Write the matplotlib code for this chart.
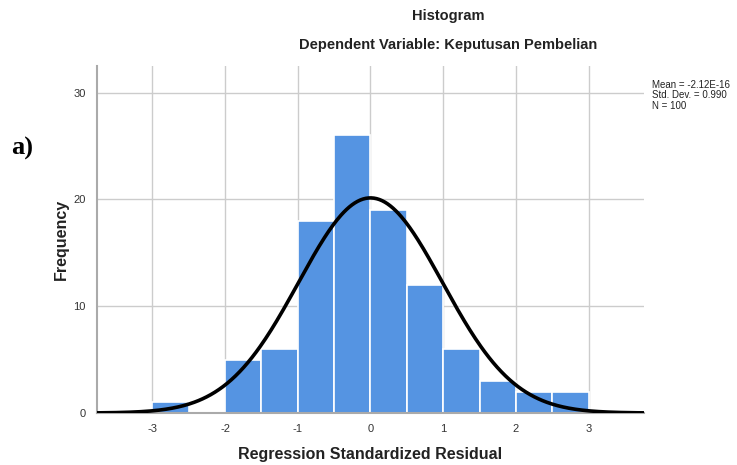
import numpy as np
import matplotlib
matplotlib.use("Agg")
import matplotlib.pyplot as plt

plt.rcParams['font.family'] = ['Liberation Sans', 'DejaVu Sans']

# histogram data (bin edges and counts)
bin_edges = [-3.0, -2.5, -2.0, -1.5, -1.0, -0.5, 0.0, 0.5, 1.0, 1.5, 2.0, 2.5, 3.0]
counts = [1, 0, 5, 6, 18, 26, 19, 12, 6, 3, 2, 2]
mean = -2.12e-16
std = 0.990
n = 100
xticks = [-3, -2, -1, 0, 1, 2, 3]
yticks = [0, 10, 20, 30]

fig = plt.figure(figsize=(7.37, 4.65), dpi=100)
ax = fig.add_axes([0.1316, 0.1118, 0.7422, 0.7462])

width = bin_edges[1] - bin_edges[0]
ax.bar(bin_edges[:-1], counts, width=width, align='edge',
       color='#5594e2', edgecolor='white', linewidth=1.2, zorder=2)

# normal curve scaled to the counts
xs = np.linspace(-3.76, 3.76, 400)
pdf = np.exp(-0.5 * ((xs - mean) / std) ** 2) / (std * np.sqrt(2 * np.pi))
ax.plot(xs, n * width * pdf, color='black', lw=2.6, zorder=3)

ax.set_xlim(-3.76, 3.76)
ax.set_ylim(0, 32.5)
ax.set_xticks(xticks)
ax.set_yticks(yticks)
ax.set_xticklabels([str(t) for t in xticks])
ax.tick_params(length=0, labelsize=8, colors='#333333', pad=8)
ax.grid(True, color='#cccccc', lw=1, zorder=0)
ax.set_axisbelow(True)
for s in ['top', 'right']:
    ax.spines[s].set_visible(False)
for s in ['left', 'bottom']:
    ax.spines[s].set_color('#aaaaaa')
    ax.spines[s].set_linewidth(1.5)

ax.set_xlabel('Regression Standardized Residual', fontsize=11.5,
              fontweight='bold', color='#222222', labelpad=9)
ax.set_ylabel('Frequency', fontsize=11.5, fontweight='bold',
              color='#222222', labelpad=3)

fig.text(0.608, 0.965, 'Histogram', ha='center', va='center',
         fontsize=10.5, fontweight='bold', color='#222222')
fig.text(0.608, 0.903, 'Dependent Variable: Keputusan Pembelian', ha='center',
         va='center', fontsize=10.5, fontweight='bold', color='#222222')

fig.text(0.885, 0.795, 'Mean = -2.12E-16\nStd. Dev. = 0.990\nN = 100',
         ha='left', va='center', fontsize=7, color='#222222', linespacing=1.1)

fig.text(0.015, 0.68, 'a)', family=['Liberation Serif', 'DejaVu Serif'],
         fontsize=19, fontweight='bold', ha='left', va='center')

fig.savefig('out.png', dpi=100)
